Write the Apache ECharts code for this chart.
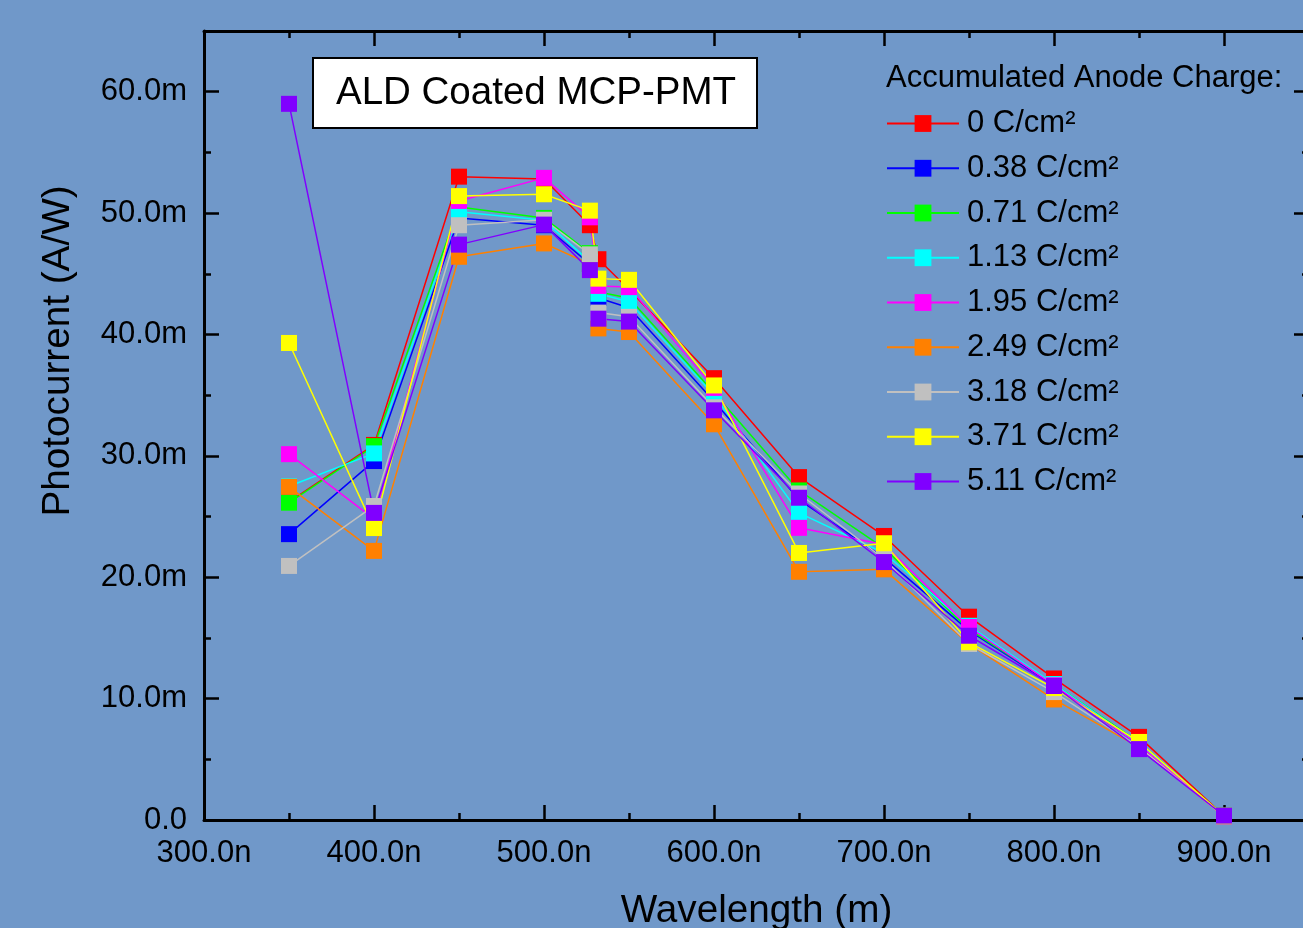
<!DOCTYPE html>
<html>
<head>
<meta charset="utf-8">
<script src="https://cdn.jsdelivr.net/npm/echarts@6/dist/echarts.min.js"></script>
<style>
  html, body { margin: 0; padding: 0; background: #7098c9; }
  #chart { width: 1303px; height: 928px; }
</style>
</head>
<body>
<div id="chart"></div>
<script>
// wavelength (nm)
const wavelengths = [350, 400, 450, 500, 527, 532, 550, 600, 650, 700, 750, 800, 850, 900];

// photocurrent (mA/W), one array per accumulated anode charge
const charge0 = [26.2, 30.9, 53.0, 52.8, 49.0, 46.2, 43.7, 36.4, 28.25, 23.4, 16.75, 11.66, 6.85, 0.35];
const charge038 = [23.55, 29.57, 49.6, 49.0, 45.8, 43.0, 42.2, 34.5, 26.4, 21.6, 15.6, 11.1, 6.2, 0.3];
const charge071 = [26.14, 30.8, 50.5, 49.6, 46.7, 43.5, 43.0, 35.2, 27.15, 22.4, 15.7, 11.2, 6.4, 0.35];
const charge113 = [27.5, 30.2, 50.1, 49.4, 46.0, 43.35, 42.7, 35.0, 25.3, 22.0, 16.0, 11.2, 6.3, 0.35];
const charge195 = [30.14, 24.8, 51.0, 52.9, 49.65, 44.0, 43.9, 35.6, 24.07, 22.7, 15.9, 11.1, 6.2, 0.3];
const charge249 = [27.45, 22.17, 46.4, 47.5, 45.8, 40.5, 40.2, 32.6, 20.45, 20.65, 14.5, 9.93, 6.0, 0.3];
const charge318 = [20.93, 25.87, 49.0, 49.45, 46.6, 41.8, 41.45, 34.0, 26.9, 21.5, 14.5, 10.54, 6.0, 0.3];
const charge371 = [39.3, 24.05, 51.4, 51.55, 50.2, 44.6, 44.5, 35.8, 22.0, 22.8, 14.64, 10.87, 6.43, 0.35];
const charge511 = [59.0, 25.3, 47.4, 49.05, 45.3, 41.3, 41.06, 33.75, 26.55, 21.25, 15.18, 11.04, 5.84, 0.36];

const seriesNames = ['0 C/cm²', '0.38 C/cm²', '0.71 C/cm²', '1.13 C/cm²', '1.95 C/cm²',
  '2.49 C/cm²', '3.18 C/cm²', '3.71 C/cm²', '5.11 C/cm²'];
const seriesValues = [charge0, charge038, charge071, charge113, charge195, charge249, charge318, charge371, charge511];
const seriesColors = ['#ff0000', '#0000ff', '#00ff00', '#00ffff', '#ff00ff', '#ff8000', '#c0c0c0', '#ffff00', '#8000ff'];

const font = 'Liberation Sans, Arial, sans-serif';
const chart = echarts.init(document.getElementById('chart'));

const tickStyle = { color: '#000', width: 2.5 };

const series = seriesNames.map((name, i) => ({
  name: name,
  type: 'line',
  data: wavelengths.map((w, j) => [w, seriesValues[i][j]]),
  symbol: 'rect',
  symbolSize: 16,
  color: seriesColors[i],
  lineStyle: { width: 1.5, color: seriesColors[i] },
  itemStyle: { color: seriesColors[i] },
  emphasis: { disabled: true },
  animation: false
}));

const options = {
  backgroundColor: '#7098c9',
  animation: false,
  grid: { left: 204, top: 31, width: 1105, height: 789, containLabel: false, outerBoundsMode: 'none' },
  legend: {
    orient: 'vertical',
    left: 886,
    top: 108,
    padding: 0,
    itemWidth: 72,
    itemHeight: 21,
    itemGap: 13.75,
    data: seriesNames,
    textStyle: { fontFamily: font, fontSize: 31, color: '#000', lineHeight: 31, padding: [0, 0, 0, 3] }
  },
  xAxis: [
    {
      type: 'value',
      min: 300,
      max: 950,
      interval: 100,
      name: 'Wavelength (m)',
      nameLocation: 'middle',
      nameGap: 72,
      nameTextStyle: { fontFamily: font, fontSize: 38.7, color: '#000' },
      axisLine: { show: true, onZero: false, lineStyle: { color: '#000', width: 3 } },
      axisTick: { show: true, inside: true, length: 15, lineStyle: tickStyle },
      minorTick: { show: true, splitNumber: 2, length: 7, lineStyle: tickStyle },
      splitLine: { show: false },
      axisLabel: {
        margin: 18,
        fontFamily: font, fontSize: 31, color: '#000',
        formatter: (v) => (v > 900 ? '' : v.toFixed(1) + 'n')
      }
    },
    {
      type: 'value',
      position: 'top',
      min: 300,
      max: 950,
      interval: 100,
      axisLine: { show: true, onZero: false, lineStyle: { color: '#000', width: 3 } },
      axisTick: { show: true, inside: true, length: 15, lineStyle: tickStyle },
      minorTick: { show: true, splitNumber: 2, length: 7, lineStyle: tickStyle },
      splitLine: { show: false },
      axisLabel: { show: false }
    }
  ],
  yAxis: [
    {
      type: 'value',
      min: 0,
      max: 65,
      interval: 10,
      axisLine: { show: true, onZero: false, lineStyle: { color: '#000', width: 3 } },
      axisTick: { show: true, inside: true, length: 15, lineStyle: tickStyle },
      minorTick: { show: true, splitNumber: 2, length: 7, lineStyle: tickStyle },
      splitLine: { show: false },
      axisLabel: {
        margin: 17,
        fontFamily: font, fontSize: 31, color: '#000',
        formatter: (v) => (v > 60 ? '' : v === 0 ? '0.0' : v.toFixed(1) + 'm')
      }
    },
    {
      type: 'value',
      position: 'right',
      min: 0,
      max: 65,
      interval: 10,
      axisLine: { show: true, onZero: false, lineStyle: { color: '#000', width: 3 } },
      axisTick: { show: true, inside: true, length: 15, lineStyle: tickStyle },
      minorTick: { show: true, splitNumber: 2, length: 7, lineStyle: tickStyle },
      splitLine: { show: false },
      axisLabel: { show: false }
    }
  ],
  graphic: [
    {
      type: 'text',
      x: 58,
      y: 351,
      rotation: Math.PI / 2,
      style: {
        text: 'Photocurrent (A/W)',
        font: '38.7px ' + font,
        fill: '#000',
        textAlign: 'center',
        textVerticalAlign: 'middle'
      }
    },
    {
      type: 'rect',
      shape: { x: 313, y: 58, width: 444, height: 70 },
      style: { fill: '#fff', stroke: '#000', lineWidth: 2 },
      z: 10
    },
    {
      type: 'text',
      x: 536,
      y: 93,
      style: {
        text: 'ALD Coated MCP-PMT',
        font: '38.5px ' + font,
        fill: '#000',
        textAlign: 'center',
        textVerticalAlign: 'middle'
      },
      z: 11
    },
    {
      type: 'text',
      x: 886,
      y: 78,
      style: {
        text: 'Accumulated Anode Charge:',
        font: '31px ' + font,
        fill: '#000',
        textAlign: 'left',
        textVerticalAlign: 'middle'
      }
    }
  ],
  series: series
};

chart.setOption(options);
</script>
</body>
</html>
